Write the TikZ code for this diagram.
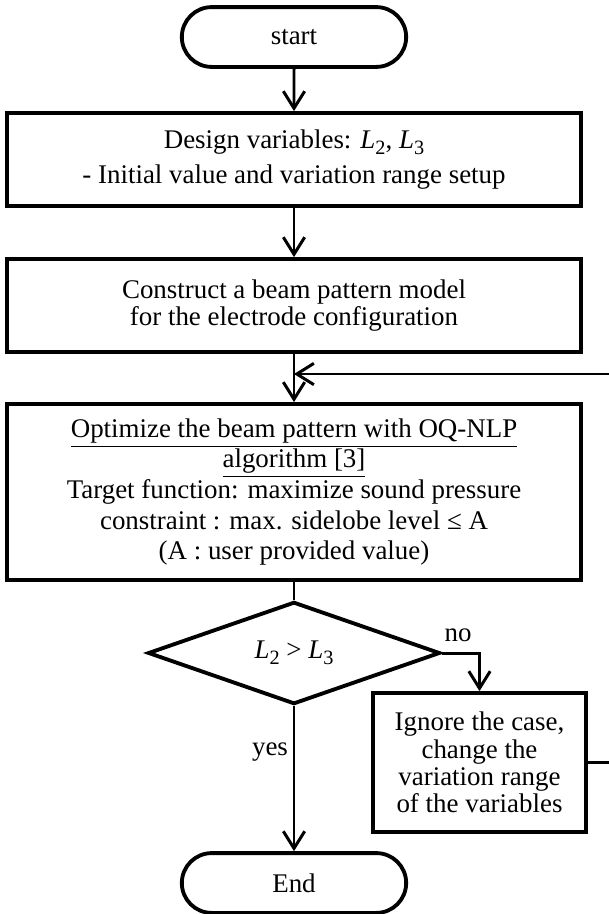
\documentclass[tikz,border=0pt]{standalone}
\usepackage{fontspec}
\setmainfont{Liberation Serif}
\usetikzlibrary{shapes.geometric,shapes.misc,arrows.meta}
\newcommand{\Lsub}[1]{\textit{L}\raisebox{-0.45ex}{\fontsize{9.5}{10}\selectfont #1}}
\tikzset{
  terminal/.style={draw, line width=1.8pt, rounded rectangle, minimum width=105pt, minimum height=28pt, inner sep=0pt},
  process/.style={draw, line width=1.8pt, rectangle, align=center, minimum width=268.6pt, inner sep=2pt},
  decision/.style={draw, line width=1.8pt, diamond, minimum width=136.7pt, minimum height=46.3pt, inner sep=0pt},
  sidebox/.style={draw, line width=1.8pt, rectangle, align=center, minimum width=99.7pt, minimum height=65pt, inner sep=2pt, font=\fontsize{12.6}{12.8}\selectfont},
  flowline/.style={line width=1.4pt},
  arrowline/.style={line width=1.4pt, -{Straight Barb[length=8pt,width=10pt,line width=1.4pt]}},
  loopline/.style={line width=1.1pt, -{Straight Barb[length=8pt,width=10pt,line width=1.4pt]}}
}
\begin{document}
\begin{tikzpicture}[x=0.468pt, y=-0.468pt, font=\fontsize{12.6}{14.3}\selectfont]
			%%%%% START %%%%%
			\useasboundingbox (0,0) rectangle (609,914);
			\clip (0,0) rectangle (609,914);
			
			\node[terminal] (start) at (294,37) {start};
			\node[process, minimum height=43.5pt] (design) at (294,159.5) {Design variables: \Lsub{2}, \Lsub{3}\\[2pt] - Initial value and variation range setup};
			\node[process, minimum height=43.5pt, font=\fontsize{12.6}{13}\selectfont] (model) at (294,305.5) {Construct a beam pattern model\\ for the electrode configuration};
			\node[process, minimum height=82.4pt] (optim) at (294,492) {\underline{Optimize the beam pattern with OQ-NLP}\\ \underline{algorithm [3]}\\ Target function: maximize sound pressure\\ constraint : max. sidelobe level ≤ A\\ (A : user provided value)};
			\node[decision] (check) at (294,653) {\Lsub{2} > \Lsub{3}};
			\node[sidebox] (ignore) at (479.5,762.5) {Ignore the case,\\ change the\\ variation range\\ of the variables};
			\node[terminal] (end) at (294,883) {End};
			
			\node (nolabel) at (458,635) {no};
			\node (yeslabel) at (270,752) {yes};
			\coordinate (merge) at (294,374);
			
			\draw[arrowline] (start) -- (design);
			\draw[arrowline] (design) -- (model);
			\draw[arrowline] (model) -- (optim);
			\draw[flowline] (optim) -- (check);
			\draw[arrowline] (check.east) -| (ignore.north);
			\draw[arrowline] (check.south) -- (end.north);
			\draw[loopline] (ignore.east) -- ++(40,0) |- (merge);
			
			%%%%% END %%%%%
\end{tikzpicture}
\end{document}
